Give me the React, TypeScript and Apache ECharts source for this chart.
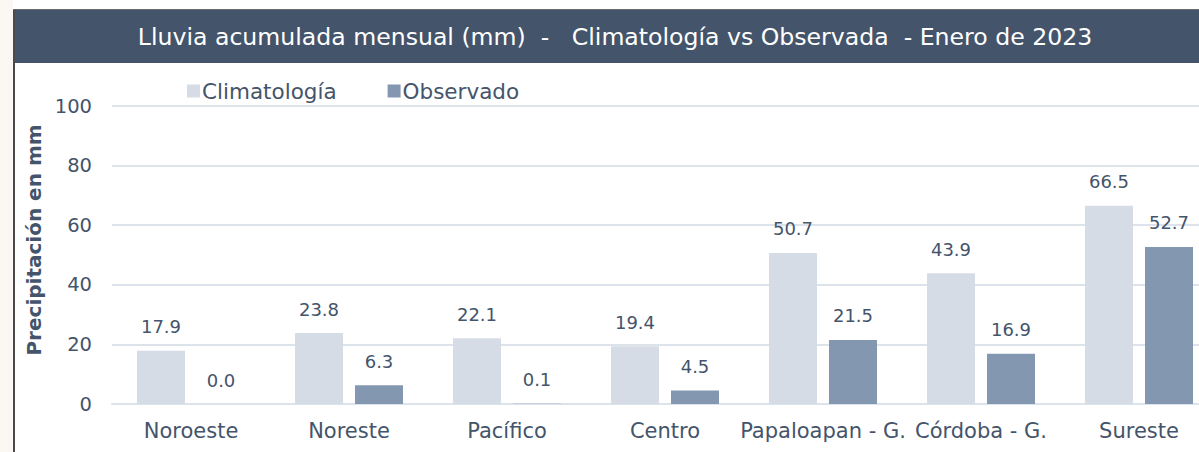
import React, { useEffect, useRef } from "react";
import * as echarts from "echarts";

const categories = ["Noroeste", "Noreste", "Pacífico", "Centro", "Papaloapan - G.", "Córdoba - G.", "Sureste"];
const climatologia = [17.9, 23.8, 22.1, 19.4, 50.7, 43.9, 66.5];
const observado = [0.0, 6.3, 0.1, 4.5, 21.5, 16.9, 52.7];
const yTicks = { min: 0, max: 100, interval: 20 };
const titleText = "Lluvia acumulada mensual (mm)  -   Climatología vs Observada  - Enero de 2023";

const FONT = "DejaVu Sans";
const TXT = "#44546A";

export default function App() {
  const ref = useRef<HTMLDivElement>(null);
  useEffect(() => {
    const chart = echarts.init(ref.current!, null, { renderer: "svg" });
    const labelStyle = {
      show: true,
      position: "top",
      distance: 15,
      color: TXT,
      fontSize: 18,
      fontFamily: FONT,
      formatter: (p: any) => Number(p.value).toFixed(1),
    };
    chart.setOption({
      animation: false,
      backgroundColor: "#ffffff",
      textStyle: { fontFamily: FONT },
      graphic: [
        { type: "rect", shape: { x: 0, y: 0, width: 13, height: 452 }, style: { fill: "#FBF8F3" }, z: -10 },
        { type: "rect", shape: { x: 13, y: 9, width: 1186, height: 2 }, style: { fill: "#6b6b6b" } },
        { type: "rect", shape: { x: 13, y: 10, width: 1186, height: 53 }, style: { fill: "#44546A" } },
        { type: "rect", shape: { x: 13, y: 10, width: 2, height: 442 }, style: { fill: "#4a4a4a" } },
        {
          type: "text",
          x: 615,
          y: 37,
          style: {
            text: titleText,
            fill: "#ffffff",
            fontSize: 23.6,
            fontFamily: FONT,
            align: "center",
            verticalAlign: "middle",
          },
        },
      ],
      legend: {
        top: 75,
        left: 182,
        itemWidth: 13,
        itemHeight: 13,
        itemGap: 51,
        icon: "rect",
        textStyle: { color: TXT, fontSize: 21.5, fontFamily: FONT, padding: [0, 0, 0, -3] },
        data: ["Climatología", "Observado"],
      },
      grid: { left: 112, top: 106, width: 1106, height: 298, outerBoundsMode: "none", containLabel: false },
      xAxis: {
        type: "category",
        data: categories,
        axisLine: { show: true, lineStyle: { color: "#DDE3EA", width: 2 } },
        axisTick: { show: false },
        axisLabel: { color: TXT, fontSize: 21, fontFamily: FONT, margin: 16, interval: 0 },
      },
      yAxis: {
        type: "value",
        min: yTicks.min,
        max: yTicks.max,
        interval: yTicks.interval,
        name: "Precipitación en mm",
        nameLocation: "middle",
        nameGap: 42,
        nameTextStyle: { color: TXT, fontSize: 20, fontWeight: "bold", fontFamily: FONT, padding: [0, 0, 0, 30] },
        axisLine: { show: false },
        axisTick: { show: false },
        splitLine: { lineStyle: { color: "#DDE3EA", width: 2 } },
        axisLabel: { color: TXT, fontSize: 19.5, fontFamily: FONT, margin: 20 },
      },
      series: [
        {
          name: "Climatología",
          type: "bar",
          data: climatologia,
          itemStyle: { color: "#D6DCE5" },
          barWidth: 48,
          barGap: "25%",
          label: labelStyle,
        },
        {
          name: "Observado",
          type: "bar",
          data: observado,
          itemStyle: { color: "#8497B0" },
          barWidth: 48,
          label: labelStyle,
        },
      ],
    });
    return () => chart.dispose();
  }, []);
  return <div ref={ref} style={{ position: "fixed", left: 0, top: 0, width: 1199, height: 452 }} />;
}
